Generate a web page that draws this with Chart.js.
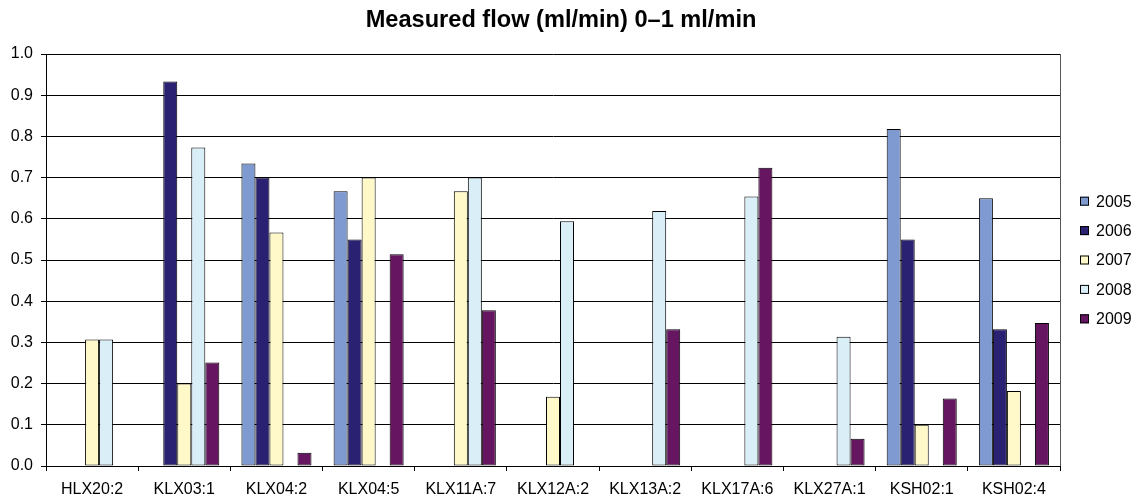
<!DOCTYPE html>
<html>
<head>
<meta charset="utf-8">
<script src="https://cdn.jsdelivr.net/npm/chart.js@4/dist/chart.umd.min.js"></script>
<style>
  html, body { margin: 0; padding: 0; background: #fff; }
  #wrap { width: 1138px; height: 504px; }
</style>
</head>
<body>
<div id="wrap"><canvas id="c" width="1138" height="504"></canvas></div>
<script>
// Borehole sections and yearly measured flow (ml/min)
const sections = ['HLX20:2', 'KLX03:1', 'KLX04:2', 'KLX04:5', 'KLX11A:7', 'KLX12A:2',
                  'KLX13A:2', 'KLX17A:6', 'KLX27A:1', 'KSH02:1', 'KSH02:4'];
const years = ['2005', '2006', '2007', '2008', '2009'];

const flow2005 = [null, null, 0.734, 0.667, null, null, null, null, null, 0.818, 0.650];
const flow2006 = [null, 0.933, 0.700, 0.550, null, null, null, null, null, 0.550, 0.332];
const flow2007 = [0.307, 0.200, 0.567, 0.700, 0.667, 0.168, null, null, null, 0.100, 0.182];
const flow2008 = [0.307, 0.773, null, null, 0.700, 0.594, 0.619, 0.654, 0.314, null, null];
const flow2009 = [null, 0.251, 0.032, 0.514, 0.378, null, 0.332, 0.724, 0.066, 0.164, 0.347];

const yTicks = [0, 0.1, 0.2, 0.3, 0.4, 0.5, 0.6, 0.7, 0.8, 0.9, 1.0];

const chartTitle = 'Measured flow (ml/min) 0–1 ml/min';

const colors = ['#7f9ad1', '#2b2173', '#fff8c8', '#daeef8', '#661660'];
const series = [flow2005, flow2006, flow2007, flow2008, flow2009];

const FONT = "'Liberation Sans', Arial, Helvetica, sans-serif";

// Bold heading, centred a little right of the plot middle
const heading = {
  id: 'heading',
  afterDraw(chart) {
    const ctx = chart.ctx;
    const a = chart.chartArea;
    ctx.save();
    ctx.font = 'bold 23.6px ' + FONT;
    ctx.fillStyle = '#000';
    ctx.textAlign = 'center';
    ctx.textBaseline = 'alphabetic';
    ctx.fillText(chartTitle, (a.left + a.right) / 2 + 8, 27);
    ctx.restore();
  }
};

// Right-hand legend: small bordered squares with year labels
const sideLegend = {
  id: 'sideLegend',
  afterDraw(chart) {
    const ctx = chart.ctx;
    const area = chart.chartArea;
    const ds = chart.data.datasets;
    const step = 29.4;
    const midY = (area.top + area.bottom) / 2;
    const y0 = midY - step * (ds.length - 1) / 2;
    const boxX = area.right + 20;
    ctx.save();
    ctx.font = '16px ' + FONT;
    ctx.textBaseline = 'middle';
    ctx.textAlign = 'left';
    ds.forEach((d, i) => {
      const cy = y0 + i * step;
      ctx.fillStyle = d.backgroundColor;
      ctx.fillRect(boxX, cy - 4.5, 9, 9);
      ctx.strokeStyle = '#000';
      ctx.lineWidth = 1;
      ctx.strokeRect(boxX + 0.5, cy - 4, 8, 8);
      ctx.fillStyle = '#000';
      ctx.fillText(d.label, boxX + 16, cy + 1);
    });
    ctx.restore();
  }
};

// Right edge of the plot frame
const plotFrame = {
  id: 'plotFrame',
  beforeDatasetsDraw(chart) {
    const { ctx, chartArea: a } = chart;
    ctx.save();
    ctx.strokeStyle = '#555';
    ctx.lineWidth = 1;
    ctx.beginPath();
    ctx.moveTo(Math.round(a.right) + 0.5, a.top);
    ctx.lineTo(Math.round(a.right) + 0.5, a.bottom);
    ctx.stroke();
    ctx.restore();
  }
};

new Chart(document.getElementById('c'), {
  type: 'bar',
  data: {
    labels: sections,
    datasets: years.map((y, i) => ({
      label: y,
      data: series[i],
      backgroundColor: colors[i],
      borderColor: '#000',
      borderWidth: 1,
      borderSkipped: false,
      categoryPercentage: 0.76,
      barPercentage: 1.0
    }))
  },
  options: {
    responsive: false,
    animation: false,
    devicePixelRatio: 1,
    layout: { padding: { left: 0, right: 78, top: 54, bottom: 0 } },
    plugins: {
      legend: { display: false },
      tooltip: { enabled: false },
      title: { display: false }
    },
    scales: {
      x: {
        afterFit(scale) { scale.height = 38; },
        grid: {
          offset: true,
          drawOnChartArea: false,
          drawTicks: true,
          tickLength: 5,
          color: '#000'
        },
        border: { color: '#000', width: 1 },
        ticks: {
          color: '#000',
          font: { family: FONT, size: 16 },
          padding: 9,
          maxRotation: 0,
          autoSkip: false
        }
      },
      y: {
        min: 0,
        max: 1,
        afterFit(scale) { scale.width = 46; },
        afterBuildTicks(scale) { scale.ticks = yTicks.map(v => ({ value: v })); },
        grid: {
          color: '#000',
          lineWidth: 1,
          tickLength: 5,
          drawTicks: true
        },
        border: { color: '#000', width: 1 },
        ticks: {
          color: '#000',
          font: { family: FONT, size: 16 },
          padding: 8,
          callback: v => Number(v).toFixed(1)
        }
      }
    }
  },
  plugins: [plotFrame, sideLegend, heading]
});
</script>
</body>
</html>
